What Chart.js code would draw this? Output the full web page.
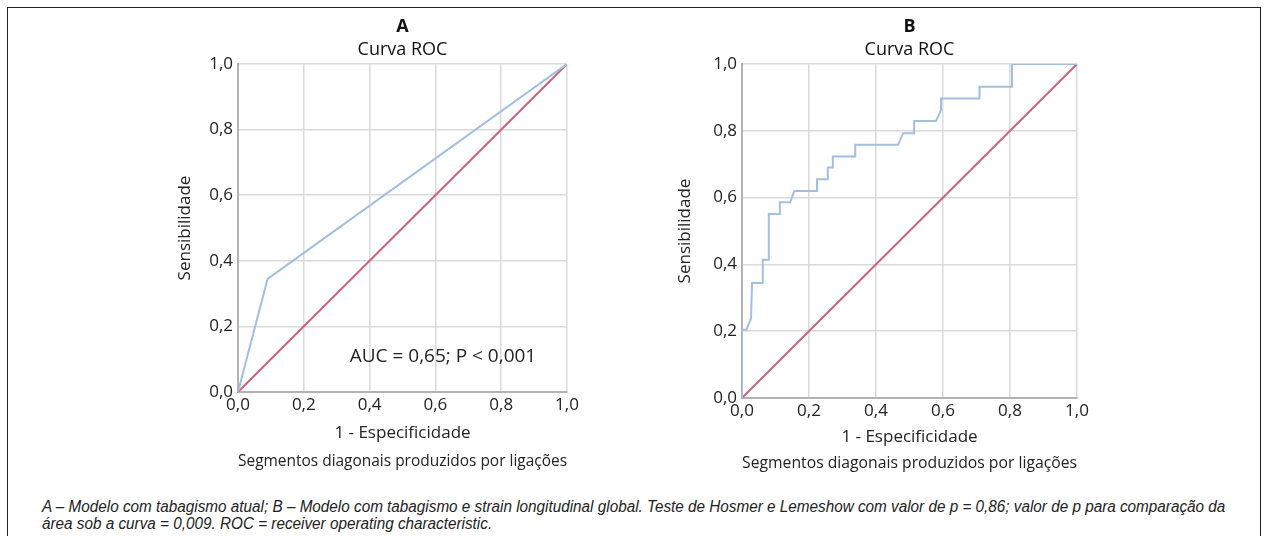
<!DOCTYPE html>
<html>
<head>
<meta charset="utf-8">
<script src="https://cdn.jsdelivr.net/npm/chart.js@4"></script>
<style>
  body { margin: 0; background: #fff; width: 1264px; height: 536px; overflow: hidden; position: relative; }
  .frame { position: absolute; left: 7px; top: 7px; width: 1252px; height: 560px; border: 1.5px solid #222; }
  canvas { position: absolute; top: 9px; }
  #rocA { left: 153px; }
  #rocB { left: 665px; }
  .caption { position: absolute; left: 42px; top: 498px; width: 1300px; color: #222; white-space: nowrap;
    font: italic 16px/17px "Liberation Sans", Arial, sans-serif;
    transform: scaleX(0.955); transform-origin: left top; }
</style>
</head>
<body>
<div class="frame"></div>
<canvas id="rocA" width="480" height="470"></canvas>
<canvas id="rocB" width="480" height="470"></canvas>
<div class="caption">A – Modelo com tabagismo atual; B – Modelo com tabagismo e strain longitudinal global. Teste de Hosmer e Lemeshow com valor de p = 0,86; valor de p para comparação da<br>área sob a curva = 0,009. ROC = receiver operating characteristic.</div>
<script>
// values
const tickLabels = ['0,0', '0,2', '0,4', '0,6', '0,8', '1,0'];

const rocAx = [0, 0.09, 1];
const rocAy = [0, 0.345, 1];

const rocBx = [0, 0, 0.013, 0.027, 0.030, 0.062, 0.062, 0.080, 0.080, 0.113, 0.113, 0.144, 0.156,
  0.224, 0.224, 0.256, 0.256, 0.271, 0.271, 0.338, 0.338, 0.466, 0.481, 0.514, 0.514, 0.579,
  0.594, 0.594, 0.709, 0.709, 0.806, 0.806, 1];
const rocBy = [0, 0.204, 0.204, 0.239, 0.344, 0.344, 0.414, 0.414, 0.551, 0.551, 0.586, 0.586, 0.620,
  0.620, 0.655, 0.655, 0.690, 0.690, 0.723, 0.723, 0.758, 0.758, 0.793, 0.793, 0.829, 0.829,
  0.862, 0.897, 0.897, 0.932, 0.932, 1, 1];

const refX = [0, 1];
const refY = [0, 1];

Chart.defaults.font.family = '"Open Sans", sans-serif';
Chart.defaults.color = '#222';

const blue = '#a2bfe0';
const red = '#c8647f';

function points(xs, ys) {
  return xs.map((x, i) => ({ x: x, y: ys[i] }));
}

// writes a text at a data position (used for the AUC note)
const noteLabel = {
  id: 'noteLabel',
  afterDatasetsDraw(chart, args, opts) {
    if (!opts.text) return;
    const ctx = chart.ctx;
    ctx.save();
    ctx.font = '19px "Open Sans", sans-serif';
    ctx.fillStyle = '#222';
    ctx.textAlign = 'center';
    ctx.textBaseline = 'middle';
    ctx.fillText(opts.text, chart.scales.x.getPixelForValue(opts.x), chart.scales.y.getPixelForValue(opts.y));
    ctx.restore();
  }
};

function rocChart(id, letter, xs, ys, lay) {
  const axis = {
    type: 'linear',
    min: 0,
    max: 1,
    grid: { color: '#dadada', lineWidth: 1.5, drawTicks: false },
    border: { color: '#b3b3b3', width: 2 },
    ticks: { stepSize: 0.2, font: { size: 17 }, color: '#222', callback: (v, i) => tickLabels[i] }
  };
  return new Chart(document.getElementById(id), {
    type: 'line',
    data: {
      datasets: [
        { data: points(xs, ys), borderColor: blue, borderWidth: 2, pointRadius: 0, tension: 0 },
        { data: points(refX, refY), borderColor: red, borderWidth: 2, pointRadius: 0, tension: 0 }
      ]
    },
    plugins: [noteLabel],
    options: {
      responsive: false,
      animation: false,
      layout: { padding: { left: lay.left, right: lay.right, top: 0, bottom: 0 } },
      plugins: {
        legend: { display: false },
        tooltip: { enabled: false },
        title: { display: true, fullSize: false, text: letter, color: '#111', font: { size: 18, weight: 'bold' }, padding: { top: 6.7, bottom: 0 } },
        subtitle: { display: true, fullSize: false, text: 'Curva ROC', color: '#111', font: { size: 18 }, padding: { top: 1.9, bottom: 3.2 } },
        noteLabel: lay.note || {}
      },
      scales: {
        x: Object.assign({}, axis, {
          ticks: Object.assign({}, axis.ticks, { padding: 3 }),
          title: {
            display: true,
            text: ['1 - Especificidade', 'Segmentos diagonais produzidos por ligações'],
            font: { size: 17, lineHeight: lay.titleLine / 17 },
            color: '#222',
            padding: { top: 0, bottom: lay.titleBottom }
          },
          afterFit: s => { s.height = lay.xHeight; }
        }),
        y: Object.assign({}, axis, {
          ticks: Object.assign({}, axis.ticks, { padding: 5 }),
          title: { display: true, text: 'Sensibilidade', font: { size: 17 }, color: '#222', padding: { top: 1.8, bottom: 0 } },
          afterFit: s => { s.width = lay.yWidth; }
        })
      }
    }
  });
}

rocChart('rocA', 'A', rocAx, rocAy, {
  left: 20, right: 66, yWidth: 65, xHeight: 87, titleLine: 28, titleBottom: 4,
  note: { text: 'AUC = 0,65; P < 0,001', x: 0.623, y: 0.107 }
});
rocChart('rocB', 'B', rocBx, rocBy, {
  left: 8, right: 68, yWidth: 69, xHeight: 81, titleLine: 26, titleBottom: 3
});
</script>
</body>
</html>
